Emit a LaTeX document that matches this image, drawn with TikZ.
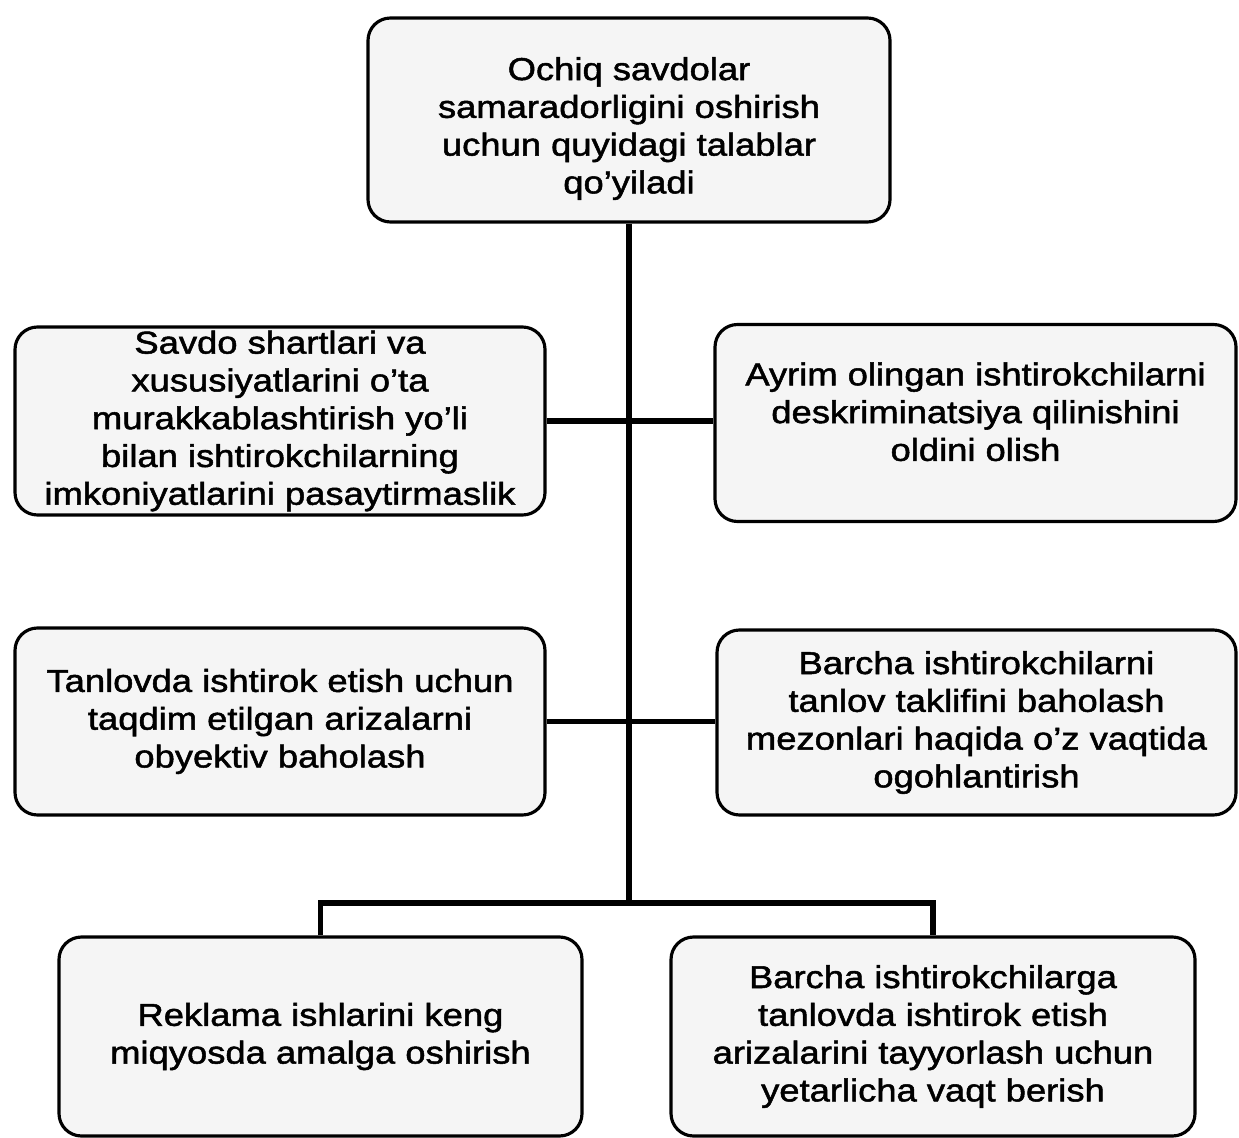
\documentclass[tikz,border=0pt]{standalone}
\usepackage{fontspec}
\setmainfont{Liberation Sans}[FakeStretch=1.15,FakeBold=1.6]
\usepackage{tikz}

\begin{document}
\begin{tikzpicture}
        \tikzstyle{every node}=[draw,line width=1.8pt,rounded corners=0.45cm,fill=gray!8,align=center,inner sep=2pt,font=\fontsize{18}{21.5}\selectfont]
        \tikzstyle{link}=[line width=3.4pt]
        \useasboundingbox (0,0) rectangle (24.78,-22.76);
        \node[minimum width=10.44cm,minimum height=4.08cm] (talab) at (12.58,-2.4) {\rule{0pt}{0.8cm}Ochiq savdolar\\samaradorligini oshirish\\uchun quyidagi talablar\\qo'yiladi};
        \node[minimum width=10.6cm,minimum height=3.76cm] (savdo) at (5.6,-8.42) {Savdo shartlari va\\xususiyatlarini o'ta\\murakkablashtirish yo'li\\bilan ishtirokchilarning\\imkoniyatlarini pasaytirmaslik};
        \node[minimum width=10.42cm,minimum height=3.94cm] (ayrim) at (19.51,-8.46) {Ayrim olingan ishtirokchilarni\\deskriminatsiya qilinishini\\oldini olish\\[-0.3cm]};
        \node[minimum width=10.6cm,minimum height=3.74cm] (tanlov) at (5.6,-14.43) {Tanlovda ishtirok etish uchun\\taqdim etilgan arizalarni\\obyektiv baholash};
        \node[minimum width=10.38cm,minimum height=3.7cm] (barcha) at (19.53,-14.45) {Barcha ishtirokchilarni\\tanlov taklifini baholash\\mezonlari haqida o'z vaqtida\\ogohlantirish};
        \node[minimum width=10.46cm,minimum height=3.98cm] (reklama) at (6.41,-20.73) {Reklama ishlarini keng\\miqyosda amalga oshirish};
        \node[minimum width=10.48cm,minimum height=3.98cm] (vaqt) at (18.66,-20.73) {Barcha ishtirokchilarga\\tanlovda ishtirok etish\\arizalarini tayyorlash uchun\\yetarlicha vaqt berish};
        \coordinate (tugun) at (12.58,-18.06);
        \draw[link] (talab.south) -- (tugun);
        \draw[link] (savdo.east) -- (savdo.east -| ayrim.west);
        \draw[link] (tanlov.east) -- (tanlov.east -| barcha.west);
        \draw[link] (reklama.north) |- (tugun) -| (vaqt.north);
    \end{tikzpicture}
\end{document}
